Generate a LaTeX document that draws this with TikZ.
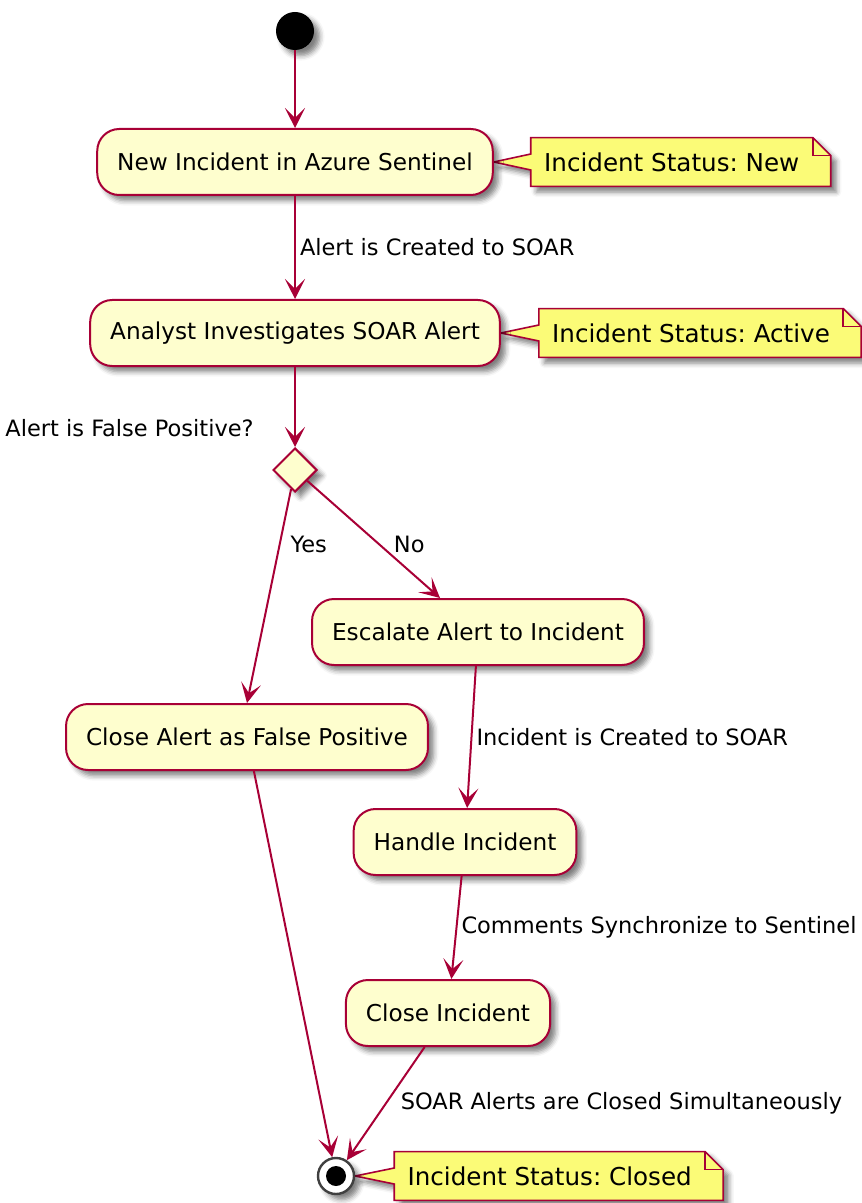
\documentclass[tikz,border=0pt]{standalone}
\usepackage{fontspec}
\setmainfont{DejaVu Sans}
\frenchspacing
\usetikzlibrary{arrows.meta,positioning,shapes.geometric,shadows.blur,backgrounds}
\definecolor{umlred}{HTML}{A80036}
\definecolor{umlfill}{HTML}{FEFECE}
\definecolor{notefill}{HTML}{FBFB77}

\begin{document}
\begin{tikzpicture}[
    x=0.5pt,
    y=-0.5pt,
    >={Stealth[length=10pt, width=10pt, inset=5pt]},
    shade/.style={blur shadow={shadow xshift=2.8pt, shadow yshift=-2.8pt, shadow blur radius=2.5pt, shadow opacity=50}},
    act/.style={draw=umlred, fill=umlfill, line width=1pt, rounded corners=11pt, minimum height=33pt, inner xsep=10pt, font=\fontsize{11.6}{14}\selectfont, shade},
    decision/.style={diamond, draw=umlred, fill=umlfill, line width=1pt, minimum size=22pt, inner sep=0pt, shade},
    notetext/.style={inner xsep=6.5pt, minimum height=24pt, font=\fontsize{12.3}{14}\selectfont},
    notebox/.style={draw=umlred, fill=notefill, line width=0.8pt, shade},
    lbl/.style={font=\fontsize{11.25}{13}\selectfont, inner sep=2pt},
    line/.style={->, draw=umlred, line width=1pt},
    startdot/.style={circle, fill=black, minimum size=19pt, inner sep=0pt, shade},
    enddot/.style={circle, draw=black!75, line width=1.2pt, fill=white, minimum size=18pt, inner sep=0pt, shade,
        path picture={\fill[black] (path picture bounding box.center) circle (5pt);}}
]
\useasboundingbox (0,0) rectangle (861,1203);

% activities
\node[startdot] (start) at (295,31) {};
\node[act] (newinc) at (295,162) {New Incident in Azure Sentinel};
\node[act] (analyst) at (295,333) {Analyst Investigates SOAR Alert};
\node[decision] (dec) at (295,470) {};
\node[lbl, anchor=east] (question) at (258,428) {Alert is False Positive?};
\node[act] (fpclose) at (247,737) {Close Alert as False Positive};
\node[act] (escalate) at (478,632) {Escalate Alert to Incident};
\node[act] (handle) at (465,842) {Handle Incident};
\node[act] (closeinc) at (448,1013) {Close Incident};
\node[enddot] (end) at (336,1176) {};

% notes
\node[notetext, right=18.5pt of newinc] (nnew) {Incident Status: New};
\node[notetext, right=19pt of analyst] (nact) {Incident Status: Active};
\node[notetext, right=19.5pt of end] (nclosed) {Incident Status: Closed};

\begin{scope}[on background layer]
\foreach \n/\t in {nnew/newinc, nact/analyst, nclosed/end} {
    \draw[notebox] (\n.south west) -- ([yshift=-4pt]\n.west) -- (\t.east) -- ([yshift=4pt]\n.west)
        -- (\n.north west) -- (\n.north east) -- ([xshift=9pt, yshift=-9pt]\n.north east)
        -- ([xshift=9pt]\n.south east) -- cycle;
    \draw[umlred, line width=0.8pt] (\n.north east) -- ([yshift=-9pt]\n.north east) -- ([xshift=9pt, yshift=-9pt]\n.north east);
}
\end{scope}

% flow
\draw[line] (start) -- (newinc);
\draw[line] (newinc) -- node[lbl, right] {Alert is Created to SOAR} (analyst);
\draw[line] (analyst) -- (dec);
\draw[line] (dec) -- node[lbl, pos=0.26, right=3pt] {Yes} (fpclose.north);
\draw[line] (dec) -- node[lbl, pos=0.54, right=5pt] {No} ([xshift=-19pt]escalate.north);
\draw[line] (escalate) -- node[lbl, right] {Incident is Created to SOAR} (handle);
\draw[line] (handle) -- node[lbl, right] {Comments Synchronize to Sentinel} (closeinc);
\draw[line] (closeinc) -- node[lbl, right=5pt] {SOAR Alerts are Closed Simultaneously} (end);
\draw[line] (fpclose) -- (end);
\end{tikzpicture}
\end{document}
